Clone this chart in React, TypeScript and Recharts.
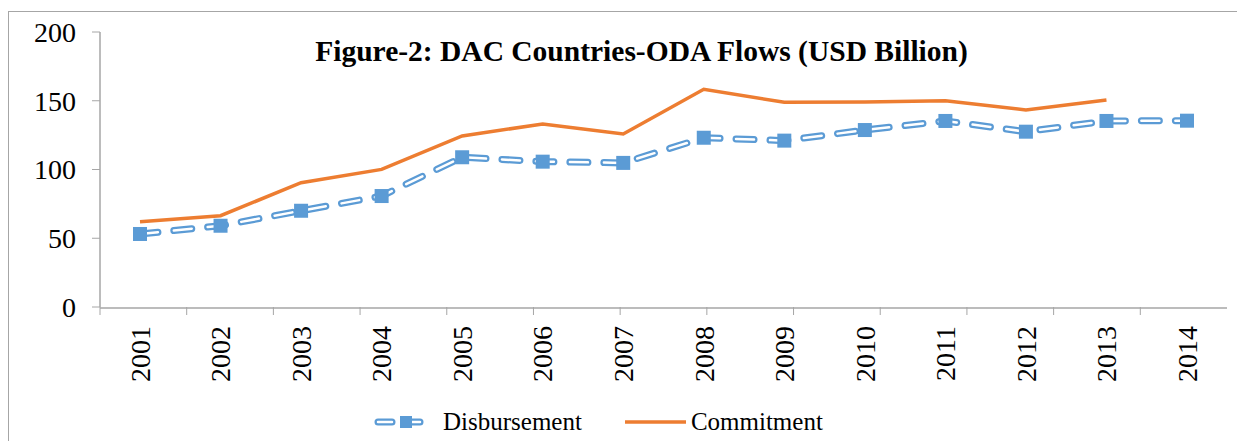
import { LineChart, Line, XAxis, YAxis, Legend } from 'recharts'

const years = ['2001', '2002', '2003', '2004', '2005', '2006', '2007', '2008', '2009', '2010', '2011', '2012', '2013', '2014']
const disbursement = [53.1, 59.1, 70.0, 80.7, 108.9, 105.7, 104.8, 123.1, 121.0, 128.7, 135.3, 127.5, 135.3, 135.5]
const commitment: (number | null)[] = [62.0, 66.4, 90.4, 100.1, 124.4, 133.1, 125.8, 158.3, 148.9, 149.1, 150.0, 143.3, 150.5, null]
const yTicks = [0, 50, 100, 150, 200]
const edgeTicks = [0, 1, 2, 3, 4, 5, 6, 7, 8, 9, 10, 11, 12, 13, 14]

const data = years.map((year, i) => ({
  year,
  disb: disbursement[i],
  comm: commitment[i],
}))

const BLUE = '#5B9BD5'
const ORANGE = '#ED7D31'
const AXIS = '#a6a6a6'
const FONT = 'Liberation Serif, DejaVu Serif, Times New Roman, Times, serif'

const YearTick = ({ x, y, payload }: any) => (
  <text
    x={x}
    y={y}
    transform={`rotate(-90 ${x} ${y})`}
    textAnchor="end"
    dy="0.35em"
    fontSize={28}
    style={{ fontFamily: FONT }}
    fill="#000"
  >
    {payload.value}
  </text>
)

const NoTick = () => <g />

const SquareDot = ({ cx, cy, index }: any) => {
  if (cx == null || cy == null) return null
  return <rect key={index} x={cx - 7} y={cy - 7} width={14} height={14} fill={BLUE} />
}

const LegendBox = () => (
  <div
    style={{
      display: 'flex',
      alignItems: 'center',
      height: 50,
      paddingTop: 12,
      boxSizing: 'border-box',
      paddingLeft: 374,
      fontFamily: FONT,
      fontSize: 25,
      color: '#000',
    }}
  >
    <svg width={52} height={16} style={{ marginRight: 17 }}>
      <line x1={4} y1={8} x2={48} y2={8} stroke={BLUE} strokeWidth={7} strokeLinecap="round" strokeDasharray="14 14" />
      <line x1={4} y1={8} x2={48} y2={8} stroke="#fff" strokeWidth={2.5} strokeLinecap="round" strokeDasharray="14 14" />
      <rect x={26} y={2} width={12} height={12} fill={BLUE} />
    </svg>
    <span style={{ marginRight: 43 }}>Disbursement</span>
    <svg width={62} height={10} style={{ marginRight: 4 }}>
      <line x1={0} y1={5} x2={61} y2={5} stroke={ORANGE} strokeWidth={3.5} />
    </svg>
    <span>Commitment</span>
  </div>
)

export default function App() {
  return (
    <div style={{ position: 'relative', width: 1245, height: 441, margin: '-8px 0 0 -8px', overflow: 'hidden', background: '#fff' }}>
      <div
        style={{
          position: 'absolute',
          left: 8,
          top: 11,
          width: 1300,
          height: 600,
          border: `1px solid ${AXIS}`,
        }}
      />
      <div
        style={{
          position: 'absolute',
          left: 0,
          width: 1283,
          top: 34,
          textAlign: 'center',
          fontFamily: FONT,
          fontWeight: 'bold',
          fontSize: 29.5,
          lineHeight: '34px',
          color: '#000',
          zIndex: 2,
        }}
      >
        Figure-2: DAC Countries-ODA Flows (USD Billion)
      </div>
      <div style={{ position: 'absolute', left: 0, top: 0 }}>
        <LineChart width={1245} height={441} data={data} margin={{ top: 32, right: 18, bottom: 0, left: 0 }}>
          <XAxis
            type="number"
            domain={[0, 14]}
            ticks={edgeTicks}
            tick={<NoTick />}
            tickSize={8}
            tickLine={{ stroke: AXIS }}
            axisLine={false}
            height={1}
            allowDataOverflow
          />
          <XAxis
            xAxisId="cat"
            dataKey="year"
            padding={{ left: 40, right: 40 }}
            axisLine={{ stroke: AXIS, strokeWidth: 1.5 }}
            tickLine={false}
            tickSize={0}
            tickMargin={18}
            tick={<YearTick />}
            interval={0}
            height={83}
          />
          <YAxis
            domain={[0, 200]}
            ticks={yTicks}
            width={100}
            axisLine={{ stroke: AXIS, strokeWidth: 1.5 }}
            tickLine={{ stroke: AXIS }}
            tickSize={8}
            tickMargin={16}
            tick={{ fontSize: 28, style: { fontFamily: FONT }, fill: '#000' }}
            interval={0}
          />
          <Legend verticalAlign="bottom" height={50} content={<LegendBox />} />
          <Line
            xAxisId="cat"
            dataKey="comm"
            stroke={ORANGE}
            strokeWidth={3.5}
            dot={false}
            isAnimationActive={false}
            legendType="none"
          />
          <Line
            xAxisId="cat"
            dataKey="disb"
            stroke={BLUE}
            strokeWidth={7}
            strokeDasharray="18 16"
            strokeLinecap="round"
            dot={false}
            isAnimationActive={false}
            legendType="none"
          />
          <Line
            xAxisId="cat"
            dataKey="disb"
            stroke="#fff"
            strokeWidth={2.5}
            strokeDasharray="18 16"
            strokeLinecap="round"
            dot={<SquareDot />}
            isAnimationActive={false}
            legendType="none"
          />
        </LineChart>
      </div>
    </div>
  )
}
